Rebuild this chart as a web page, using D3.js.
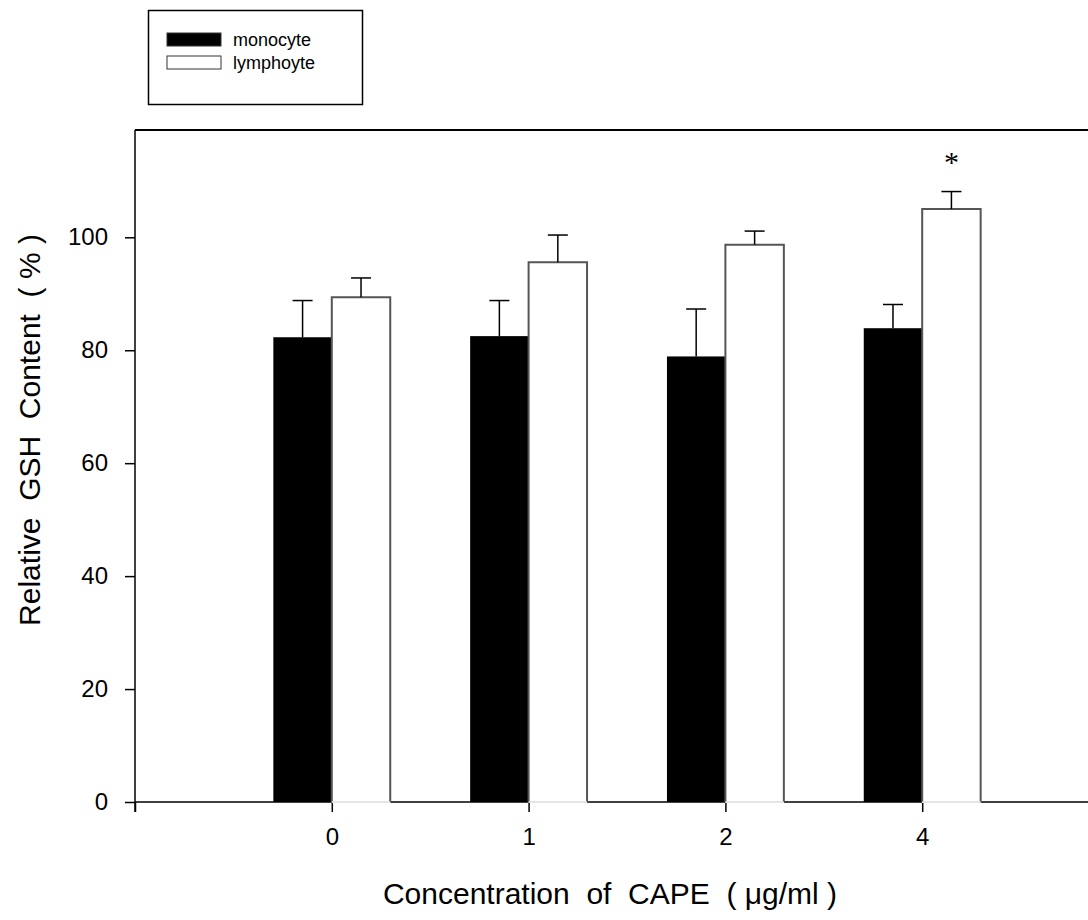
<!DOCTYPE html>
<html>
<head>
<meta charset="utf-8">
<script src="https://cdn.jsdelivr.net/npm/d3@7"></script>
<style>
    body { margin: 0; background: #fff; }
    svg { display: block; font-family: Arial, "Liberation Sans", sans-serif; }
</style>
</head>
<body>
<div id="chart"></div>
<script>
// Chart data
const categories = ['0', '1', '2', '4'];
const monocyte = [82.3, 82.5, 78.9, 83.9];
const monocyteErr = [6.5, 6.3, 8.4, 4.2];
const lymphocyte = [89.4, 95.6, 98.7, 105.0];
const lymphocyteErr = [3.4, 4.8, 2.4, 3.1];
const significant = [false, false, false, true];
const yTicks = [0, 20, 40, 60, 80, 100];

const WIDTH = 1088, HEIGHT = 920;
const FONT = 'Arial, "Liberation Sans", sans-serif';

const svg = d3.select('#chart').append('svg')
    .attr('width', WIDTH)
    .attr('height', HEIGHT);

// Scales (index -1 = left axis, index 4 = right frame edge, off picture)
const x = d3.scaleLinear().domain([-1, 4]).range([135, 1119]);
const y = d3.scaleLinear().domain([0, 119]).range([802, 130]);
const barW = (x(1) - x(0)) * 0.297;

// Frame top + right
svg.append('path')
    .attr('d', `M${x(-1)},${y(119)}H${x(4)}V${y(0)}`)
    .attr('fill', 'none')
    .attr('stroke', '#000')
    .attr('stroke-width', 2);

// Y axis
const yAxis = svg.append('g')
    .attr('transform', `translate(${x(-1)},0)`)
    .call(d3.axisLeft(y).tickValues(yTicks).tickSize(10).tickPadding(17));
yAxis.select('.domain').attr('d', `M0,${y(119)}V${y(0) + 10}`).attr('stroke-width', 1.5);
yAxis.selectAll('.tick line').attr('stroke-width', 1.5);
yAxis.selectAll('text').attr('font-size', 24).attr('fill', '#000')
    .attr('font-family', FONT);

// X axis
const xAxis = svg.append('g')
    .attr('transform', `translate(0,${y(0)})`)
    .call(d3.axisBottom(x).tickValues([-1, 0, 1, 2, 3, 4])
        .tickFormat(d => categories[d] || '').tickSize(10).tickPadding(16));
xAxis.select('.domain').attr('d', `M${x(-1)},0H${x(4)}`).attr('stroke-width', 1.5);
xAxis.selectAll('.tick line').attr('stroke-width', 1.5);
xAxis.selectAll('text').attr('font-size', 24).attr('fill', '#000')
    .attr('font-family', FONT);

// Bars
const bars = svg.append('g');
categories.forEach((c, i) => {
    // monocyte (black, left of tick)
    bars.append('rect')
        .attr('x', x(i) - barW)
        .attr('y', y(monocyte[i]))
        .attr('width', barW)
        .attr('height', y(0) - y(monocyte[i]))
        .attr('fill', '#000');

    // lymphocyte (white, right of tick)
    bars.append('rect')
        .attr('x', x(i))
        .attr('y', y(lymphocyte[i]))
        .attr('width', barW)
        .attr('height', y(0) - y(lymphocyte[i]) + 1)
        .attr('fill', '#fff');
    bars.append('path')
        .attr('d', `M${x(i)},${y(0)}V${y(lymphocyte[i])}H${x(i) + barW}V${y(0)}`)
        .attr('fill', 'none')
        .attr('stroke', '#555')
        .attr('stroke-width', 2);
    bars.append('line')
        .attr('x1', x(i)).attr('x2', x(i) + barW)
        .attr('y1', y(0)).attr('y2', y(0))
        .attr('stroke', '#ddd')
        .attr('stroke-width', 1.5);
});

// Error bars (upper only)
const errs = svg.append('g').attr('stroke', '#000').attr('stroke-width', 1.5);
function errorBar(cx, v, e) {
    errs.append('line').attr('x1', cx).attr('x2', cx).attr('y1', y(v)).attr('y2', y(v + e));
    errs.append('line').attr('x1', cx - 10).attr('x2', cx + 10).attr('y1', y(v + e)).attr('y2', y(v + e));
}
categories.forEach((c, i) => {
    errorBar(x(i) - barW / 2, monocyte[i], monocyteErr[i]);
    errorBar(x(i) + barW / 2, lymphocyte[i], lymphocyteErr[i]);
    if (significant[i]) {
        svg.append('text')
            .attr('x', x(i) + barW / 2)
            .attr('y', y(lymphocyte[i] + lymphocyteErr[i]) - 20)
            .attr('text-anchor', 'middle')
            .attr('font-family', '"Liberation Serif", "Times New Roman", serif')
            .attr('font-size', 30)
            .text('*');
    }
});

// Axis titles
svg.append('text')
    .attr('transform', 'translate(40,430) rotate(-90)')
    .attr('text-anchor', 'middle')
    .attr('font-size', 30)
    .style('white-space', 'pre')
    .text('Relative  GSH  Content  ( % )');

svg.append('text')
    .attr('x', 610)
    .attr('y', 904)
    .attr('text-anchor', 'middle')
    .attr('font-size', 30)
    .style('white-space', 'pre')
    .text('Concentration  of  CAPE  ( μg/ml )');

// Legend
const legend = svg.append('g');
legend.append('rect')
    .attr('x', 148.5).attr('y', 10.5)
    .attr('width', 214).attr('height', 94)
    .attr('fill', 'none').attr('stroke', '#000').attr('stroke-width', 1.5);
const legendItems = [
    { name: 'monocyte', fill: '#000' },
    { name: 'lymphoyte', fill: '#fff' }
];
legendItems.forEach((d, i) => {
    const row = legend.append('g').attr('transform', `translate(167,${33 + i * 23})`);
    row.append('rect')
        .attr('width', 54).attr('height', 13)
        .attr('fill', d.fill).attr('stroke', '#333').attr('stroke-width', 1);
    row.append('text')
        .attr('x', 66).attr('y', 13)
        .attr('font-size', 18)
        .text(d.name);
});
</script>
</body>
</html>
